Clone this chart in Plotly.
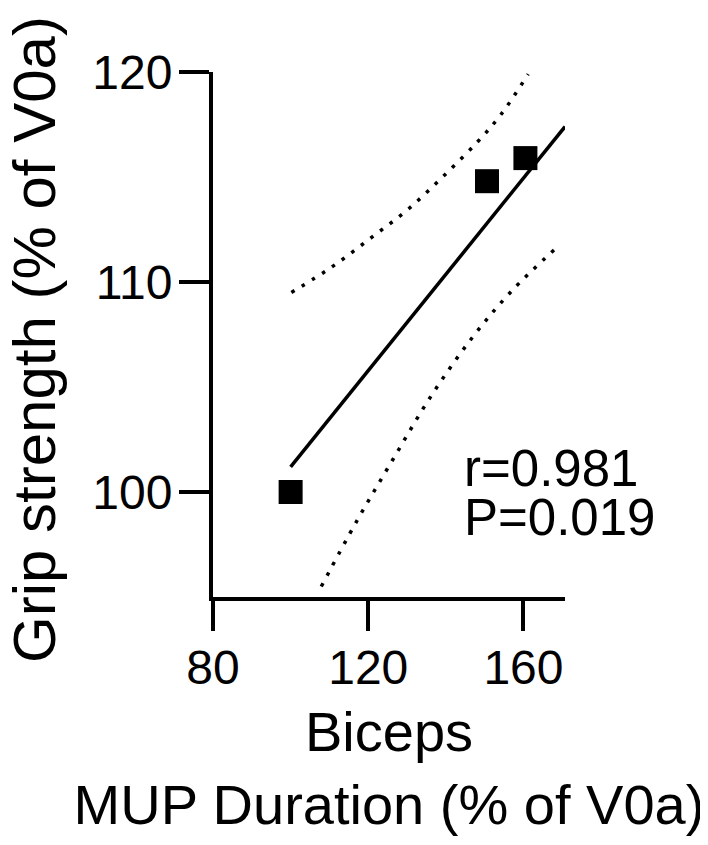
import plotly.graph_objects as go

# ---- data ----
duration = [100.0, 150.6, 160.5]          # Biceps MUP duration (% of V0a)
grip = [100.0, 114.8, 115.9]              # Grip strength (% of V0a)

fit_x = [100.0, 170.7]
fit_y = [101.2, 117.4]

upper_x = [100.2, 110.5, 120.7, 130.5, 139.7, 148.3, 154.3, 161.2]
upper_y = [109.5, 110.7, 112.1, 113.5, 115.1, 116.7, 118.0, 119.9]
lower_x = [107.9, 117.0, 126.2, 136.3, 147.0, 157.1, 168.3]
lower_y = [95.5, 98.6, 101.5, 104.6, 107.4, 109.6, 111.6]

x_ticks = [80, 120, 160]
y_ticks = [100, 110, 120]
x_range = [80, 170.7]
y_range = [95, 120]

stat_lines = ["r=0.981", "P=0.019"]
stat_x = 144.2
stat_y = [101.1, 98.8]

x_title = "Biceps<br>MUP Duration (% of V0a)"
y_title = "Grip strength (% of V0a)"

FONT = "Liberation Sans, Arial, Helvetica, sans-serif"

fig = go.Figure()
fig.add_trace(go.Scatter(x=upper_x, y=upper_y, mode="lines", line_shape="spline",
                         line=dict(color="black", width=3.5, dash="3.5px,8.5px"),
                         showlegend=False, hoverinfo="skip"))
fig.add_trace(go.Scatter(x=lower_x, y=lower_y, mode="lines", line_shape="spline",
                         line=dict(color="black", width=3.5, dash="3.5px,8.5px"),
                         showlegend=False, hoverinfo="skip"))
fig.add_trace(go.Scatter(x=fit_x, y=fit_y, mode="lines",
                         line=dict(color="black", width=3.5),
                         showlegend=False))
fig.add_trace(go.Scatter(x=duration, y=grip, mode="markers",
                         marker=dict(symbol="square", size=24, color="black",
                                     line=dict(width=0)),
                         showlegend=False, cliponaxis=False))

for txt, yy in zip(stat_lines, stat_y):
    fig.add_annotation(x=stat_x, y=yy, xref="x", yref="y", text=txt,
                       showarrow=False, xanchor="left", yanchor="middle",
                       font=dict(family=FONT, size=51, color="black"))

# y-axis title placed as a rotated annotation for precise positioning
fig.add_annotation(x=-0.505, y=0.49, xref="paper", yref="paper", text=y_title,
                   textangle=-90, showarrow=False, xanchor="center", yanchor="middle",
                   font=dict(family=FONT, size=60, color="black"))

axis_common = dict(showline=True, linewidth=4, linecolor="black",
                   ticks="outside", ticklen=30, tickwidth=4, tickcolor="black",
                   showgrid=False, zeroline=False,
                   tickfont=dict(family=FONT, size=48, color="black"))

fig.update_xaxes(range=x_range, tickvals=x_ticks, ticktext=[str(v) for v in x_ticks],
                 ticklabelstandoff=-5,
                 title=dict(text=x_title,
                            font=dict(family=FONT, size=56, color="black"),
                            standoff=20),
                 **axis_common)
fig.update_yaxes(range=y_range, tickvals=y_ticks, ticktext=[str(v) for v in y_ticks],
                 ticklabelstandoff=-3,
                 **axis_common)

fig.update_layout(width=708, height=845, autosize=False,
                  margin=dict(l=205, r=151, t=64, b=256),
                  plot_bgcolor="white", paper_bgcolor="white",
                  font=dict(family=FONT, color="black"))

fig.write_html("out.html")
